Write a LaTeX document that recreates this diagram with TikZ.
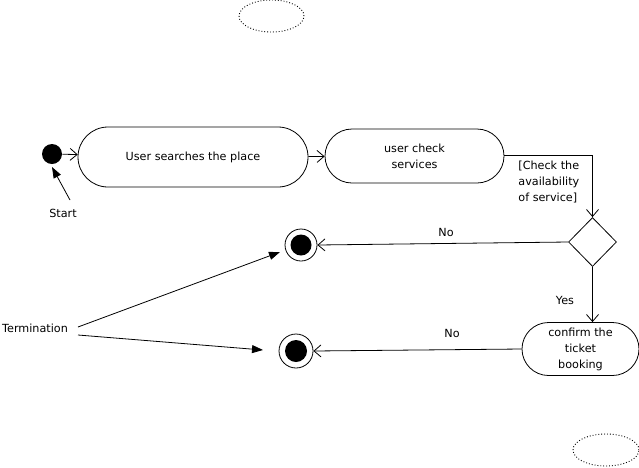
\documentclass[tikz,border=0pt]{standalone}
\usepackage{fontspec}
\setmainfont{DejaVu Sans}
\usetikzlibrary{arrows.meta,shapes.geometric,shapes.misc}
\begin{document}
\begin{tikzpicture}[x=1pt,y=-1pt,line width=0.8pt,
  font=\fontsize{11.2}{16}\selectfont,
  action/.style={draw,rounded rectangle,inner sep=0pt,align=center},
  flow/.style={-{Straight Barb[length=7pt,width=12pt]}},
  note/.style={-{Triangle[length=11pt,width=8pt]}},
  lbl/.style={inner sep=0pt,align=left},
  dots/.style={draw,ellipse,dotted,line width=0.9pt,inner sep=0pt}]
\useasboundingbox (0,0) rectangle (639,467);
% dotted ellipses
\node[dots,minimum width=65pt,minimum height=32pt] (e1) at (271.5,16) {};
\node[dots,minimum width=66pt,minimum height=32pt] (e2) at (606,450) {};
% start
\node[circle,fill=black,minimum size=20pt,inner sep=0pt] (start) at (52,154) {};
\node[lbl] (startl) at (63,213) {Start};
% actions
\node[action,minimum width=230pt,minimum height=60pt] (a1) at (193,157) {User searches the place};
\node[action,minimum width=179pt,minimum height=54pt] (a2) at (414.5,156) {user check\\services};
\node[action,minimum width=117pt,minimum height=53pt] (a3) at (580.5,349) {confirm the\\ticket\\booking};
% decision
\node[draw,diamond,minimum width=48pt,minimum height=49pt,inner sep=0pt,aspect=1] (d) at (592.5,242) {};
% finals
\node[circle,draw,minimum size=32pt,inner sep=0pt] (f1) at (301,245) {};
\node[circle,fill=black,minimum size=21pt,inner sep=0pt] at (f1) {};
\node[circle,draw,minimum size=34pt,inner sep=0pt] (f2) at (296,351) {};
\node[circle,fill=black,minimum size=22pt,inner sep=0pt] at (f2) {};
% labels
\node[lbl,anchor=north west] (guard) at (518,161) {[Check the\\availability\\of service]};
\node[lbl] (no1) at (446,232) {No};
\node[lbl] (yes) at (565,300) {Yes};
\node[lbl] (no2) at (452,333) {No};
\node[lbl] (term) at (35,328) {Termination};
% coordinates
\coordinate (c1) at (592.5,155);
\coordinate (sa) at (70,200);
\coordinate (sb) at (52,167);
\coordinate (t1) at (78,327);
\coordinate (t2) at (280,252);
\coordinate (t3) at (78,335);
\coordinate (t4) at (263,350);
% connectors
\draw[flow] (start) -- (a1);
\draw[flow] (a1) -- (a2);
\draw[flow] (a2.east |- c1) -- (c1) -- (d.north);
\draw[flow] (d.west) -- (f1.east);
\draw[flow] (d.south) -- (d.south |- a3.north);
\draw[flow] (a3.west) -- (f2.east);
\draw[note] (sa) -- (sb);
\draw[note] (t1) -- (t2);
\draw[note] (t3) -- (t4);
\end{tikzpicture}
\end{document}
